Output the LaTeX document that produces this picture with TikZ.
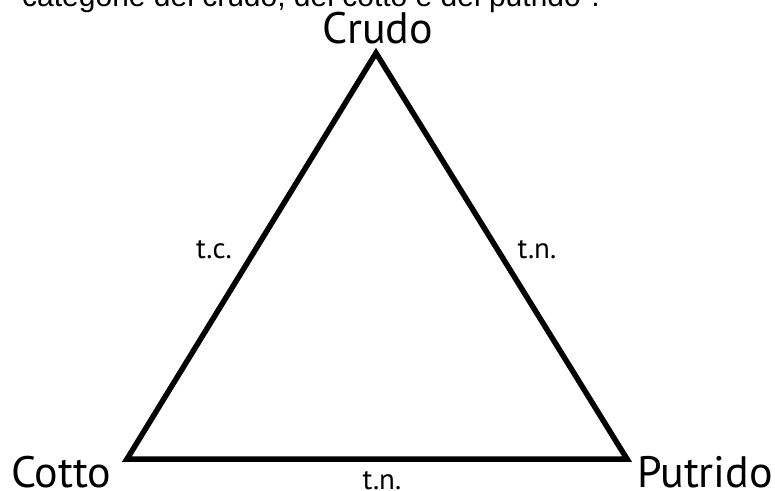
\documentclass[tikz,border=0pt]{standalone}
\usepackage{fontspec}
\setmainfont{PT Sans}
\newfontfamily\captionfont{Liberation Sans}
\usetikzlibrary{positioning}

\begin{document}
\begin{tikzpicture}[
    x=1pt, y=-1pt,
    vertex/.style={inner sep=0pt, font=\fontsize{44}{48}\selectfont},
    side/.style={inner sep=0pt, font=\fontsize{29}{32}\selectfont},
    edge/.style={line width=5.5pt, line join=miter}
]
    \useasboundingbox (0,0) rectangle (775,490);

    % Caption line, cut off at the top
    \node[anchor=base west, inner sep=0pt, font=\captionfont\fontsize{30}{34}\selectfont] (caption) at (22,6) {categorie del crudo, del cotto e del putrido".};

    % Corners
    \coordinate (crudo) at (376,53);
    \coordinate (cotto) at (127,459);
    \coordinate (putrido) at (627,459);

    % Triangle
    \draw[edge] (crudo) -- (putrido) -- (cotto) -- cycle;

    % Corner labels
    \node[vertex, anchor=base] (lcrudo) at (378,43) {Crudo};
    \node[vertex, anchor=base west] (lcotto) at (11,487) {Cotto};
    \node[vertex, anchor=base west] (lputrido) at (637,487) {Putrido};

    % Side labels
    \node[side, anchor=base] (tc) at (214,258) {t.c.};
    \node[side, anchor=base] (tnr) at (537,258) {t.n.};
    \node[side, anchor=base] (tnb) at (382,489) {t.n.};

\end{tikzpicture}
\end{document}
